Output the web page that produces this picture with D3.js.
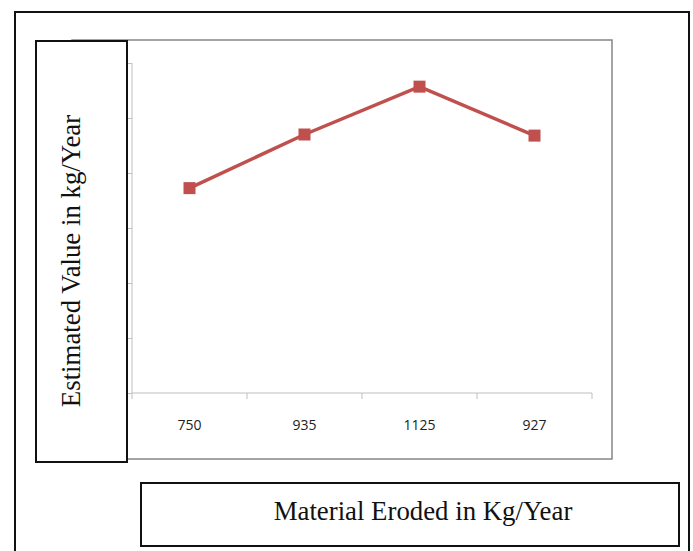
<!DOCTYPE html>
<html>
<head>
<meta charset="utf-8">
<script src="https://cdn.jsdelivr.net/npm/d3@7"></script>
<style>
  html, body { margin: 0; padding: 0; background: #fff; }
  svg { display: block; }
</style>
</head>
<body>
<svg id="chart" width="693" height="551"></svg>
<script>
const categories = ["750", "935", "1125", "927"];
const values = [745, 940, 1114, 936];
const yTicks = [0, 200, 400, 600, 800, 1000, 1200];
const yTitle = "Estimated Value in kg/Year";
const xTitle = "Material Eroded in Kg/Year";

const svg = d3.select("#chart");

// outer frame
svg.append("rect").attr("x", 15).attr("y", 12).attr("width", 674).attr("height", 560)
  .attr("fill", "none").attr("stroke", "#111").attr("stroke-width", 2);

// chart area
svg.append("rect").attr("x", 72).attr("y", 40).attr("width", 540).attr("height", 419)
  .attr("fill", "#fff").attr("stroke", "#868686").attr("stroke-width", 1.5);

const x = d3.scaleBand().domain(categories).range([132, 592]).paddingInner(0).paddingOuter(0);
const y = d3.scaleLinear().domain([0, 1200]).range([393, 63]);

// y axis
const yAxis = svg.append("g").attr("transform", "translate(132,0)")
  .call(d3.axisLeft(y).tickValues(yTicks).tickSize(5).tickFormat(""));
yAxis.selectAll("path, line").attr("stroke", "#bfbfbf");
yAxis.select(".domain").attr("d", "M0,63V393");

// x axis
const xAxis = svg.append("g").attr("transform", "translate(0,393)")
  .call(d3.axisBottom(x).tickSize(0).tickPadding(27));
xAxis.select(".domain").attr("stroke", "#bfbfbf").attr("d", "M132,0H592");
xAxis.selectAll("text").attr("font-family", "'Liberation Sans Narrow', 'Open Sans', sans-serif")
  .attr("font-size", 14).attr("fill", "#222");
const bounds = categories.map(c => x(c)).concat([x(categories[categories.length - 1]) + x.bandwidth()]);
xAxis.selectAll(".bnd").data(bounds).enter().append("line")
  .attr("x1", d => d).attr("x2", d => d).attr("y1", 0).attr("y2", 6)
  .attr("stroke", "#bfbfbf");

// line
const cx = c => x(c) + x.bandwidth() / 2;
const line = d3.line().x((d, i) => cx(categories[i])).y(d => y(d));
svg.append("path").datum(values).attr("d", line)
  .attr("fill", "none").attr("stroke", "#C0504D").attr("stroke-width", 3.5);
svg.selectAll(".mk").data(values).enter().append("rect")
  .attr("x", (d, i) => cx(categories[i]) - 6).attr("y", d => y(d) - 6)
  .attr("width", 12).attr("height", 12).attr("fill", "#C0504D");

// y title box
svg.append("rect").attr("x", 36).attr("y", 41).attr("width", 91).attr("height", 421)
  .attr("fill", "#fff").attr("stroke", "#111").attr("stroke-width", 2);
svg.append("text").attr("transform", "translate(80,261) rotate(-90)")
  .attr("text-anchor", "middle").attr("font-family", "'Liberation Serif', 'Times New Roman', serif")
  .attr("font-size", 26.8).attr("fill", "#111").text(yTitle);

// x title box
svg.append("rect").attr("x", 141).attr("y", 483).attr("width", 538).attr("height", 63)
  .attr("fill", "#fff").attr("stroke", "#111").attr("stroke-width", 2);
svg.append("text").attr("x", 423).attr("y", 520)
  .attr("text-anchor", "middle").attr("font-family", "'Liberation Serif', 'Times New Roman', serif")
  .attr("font-size", 26.8).attr("fill", "#111").text(xTitle);
</script>
</body>
</html>
